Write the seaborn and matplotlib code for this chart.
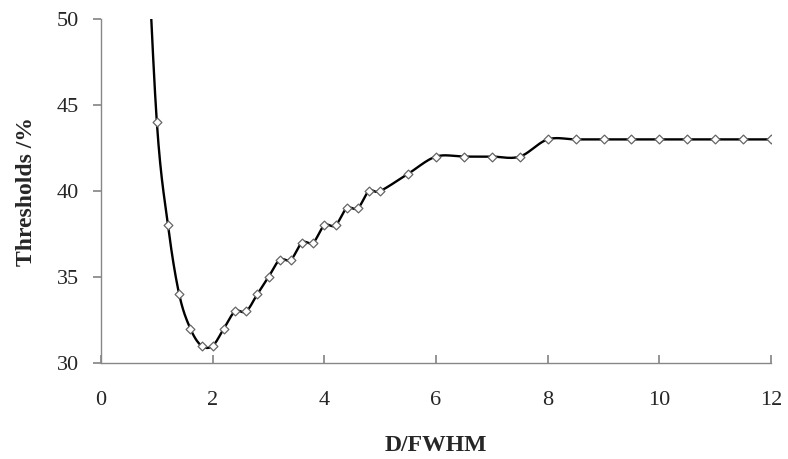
import numpy as np
import pandas as pd
import matplotlib
matplotlib.use("Agg")
import matplotlib.pyplot as plt
import seaborn as sns

# Data
d_fwhm = [0.8, 1.0, 1.2, 1.4, 1.6, 1.8, 2.0, 2.2, 2.4, 2.6, 2.8, 3.0, 3.2, 3.4, 3.6,
          3.8, 4.0, 4.2, 4.4, 4.6, 4.8, 5.0, 5.5, 6.0, 6.5, 7.0, 7.5, 8.0, 8.5,
          9.0, 9.5, 10.0, 10.5, 11.0, 11.5, 12.0]
thresholds = [57, 44, 38, 34, 32, 31, 31, 32, 33, 33, 34, 35, 36, 36, 37,
              37, 38, 38, 39, 39, 40, 40, 41, 42, 42, 42, 42, 43, 43,
              43, 43, 43, 43, 43, 43, 43]
x_ticks = [0, 2, 4, 6, 8, 10, 12]
y_ticks = [30, 35, 40, 45, 50]

df = pd.DataFrame({"D/FWHM": d_fwhm, "Thresholds": thresholds})


def catmull_rom(xs, ys, n=20):
    p = np.column_stack([xs, ys]).astype(float)
    p = np.vstack([p[0], p, p[-1]])
    out = []
    t = np.linspace(0, 1, n, endpoint=False)[:, None]
    for i in range(1, len(p) - 2):
        p0, p1, p2, p3 = p[i - 1], p[i], p[i + 1], p[i + 2]
        seg = 0.5 * ((2 * p1) + (-p0 + p2) * t + (2 * p0 - 5 * p1 + 4 * p2 - p3) * t ** 2
                     + (-p0 + 3 * p1 - 3 * p2 + p3) * t ** 3)
        out.append(seg)
    out.append(p[-2][None, :])
    s = np.vstack(out)
    return s[:, 0], s[:, 1]


sns.set_theme(style="white")
plt.rcParams["font.family"] = ["Liberation Serif", "DejaVu Serif"]

fig = plt.figure(figsize=(7.88, 4.59), dpi=100)
ax = fig.add_axes([101 / 788, 1 - 363 / 459, 670 / 788, 344 / 459])

sx, sy = catmull_rom(df["D/FWHM"].values, df["Thresholds"].values)
ax.plot(sx, sy, color="black", lw=1.7, zorder=2)
mask = df["D/FWHM"] >= 1.0
sns.scatterplot(data=df[mask], x="D/FWHM", y="Thresholds", ax=ax, marker="D", s=20,
                facecolor="white", edgecolor="#666666", linewidth=0.9, zorder=3,
                legend=False)

ax.set_xlim(0, 12)
ax.set_ylim(30, 50)
ax.set_xticks(x_ticks)
ax.set_yticks(y_ticks)
for sp in ["top", "right"]:
    ax.spines[sp].set_visible(False)
for sp in ["left", "bottom"]:
    ax.spines[sp].set_color("#888888")
    ax.spines[sp].set_linewidth(1.0)
ax.tick_params(axis="x", direction="in", length=6, color="#888888", labelsize=16,
               pad=20, bottom=True)
ax.tick_params(axis="y", direction="out", length=6, color="#888888", labelsize=16,
               left=True, pad=10)
ax.set_xlabel("D/FWHM", fontsize=17, fontweight="bold", labelpad=18)
ax.set_ylabel("Thresholds /%", fontsize=17, fontweight="bold", labelpad=14)
ax.grid(False)

fig.savefig("out.png", dpi=100)
